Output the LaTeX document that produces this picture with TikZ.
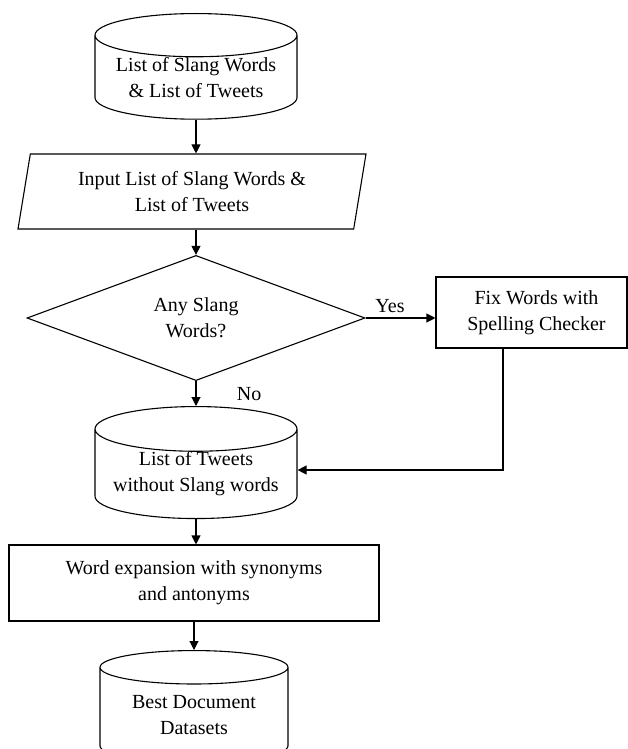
\documentclass[tikz,border=0pt]{standalone}
\usepackage{fontspec}
\setmainfont{Liberation Serif}
\usetikzlibrary{arrows.meta, shapes.geometric}
\newcommand{\figArrow}{{Triangle[length=9pt, width=9pt]}}

\begin{document}
\begin{tikzpicture}[x=1pt, y=-1pt, font=\fontsize{20}{26}\selectfont, line width=1.1pt,
	store/.style={draw, cylinder, shape border rotate=90, aspect=0.27, align=center, inner sep=0pt, anchor=north},
	inout/.style={draw, trapezium, trapezium left angle=73, trapezium right angle=107, trapezium stretches body, align=center, inner sep=0pt},
	decide/.style={draw, diamond, align=center, inner sep=0pt},
	process/.style={draw, rectangle, align=center, inner sep=0pt}]
	\useasboundingbox (0,0) rectangle (627,749);
	\def\C{196}
	
	\node[store, minimum width=202, minimum height=104]	(slang) at (\C,13)	{List of Slang Words\\ \& List of Tweets};
	\node[inout, minimum width=348, minimum height=75]	(input) at (192,191.5)	{Input List of Slang Words \&\\ List of Tweets};
	\node[decide, minimum width=338, minimum height=121]	(check) at (\C,318)	{Any Slang\\ Words?};
	\node[process, minimum width=191, minimum height=71]	(fix) at (531.5,312.5)	{\hspace*{10pt}Fix Words with\\ \hspace*{10pt}Spelling Checker};
	\node[store, minimum width=202, minimum height=109]	(clean) at (\C,406)	{List of Tweets\\ without Slang words};
	\node[process, minimum width=370, minimum height=76]	(expand) at (194,583)	{Word expansion with synonyms\\ and antonyms};
	\node[store, minimum width=188, minimum height=112]	(best) at (194,650)	{Best Document\\ Datasets};
	\coordinate (turn) at (503,470);
	
	\draw[-\figArrow]	(slang.south) -- (slang.south |- input.north);
	\draw[-\figArrow]	(check.north |- input.south) -- (check.north);
	\draw[-\figArrow]	(check.east) -- node[pos=0.35, above=1pt] {Yes} (check.east -| fix.west);
	\draw[-\figArrow]	(check.south) -- node[midway, right=37pt] {No} (clean.north);
	\draw[-\figArrow]	(fix.south -| turn) -- (turn) -- (turn -| clean.east);
	\draw[-\figArrow]	(clean.south) -- (clean.south |- expand.north);
	\draw[-\figArrow]	(expand.south) -- (best.north);
\end{tikzpicture}
\end{document}
